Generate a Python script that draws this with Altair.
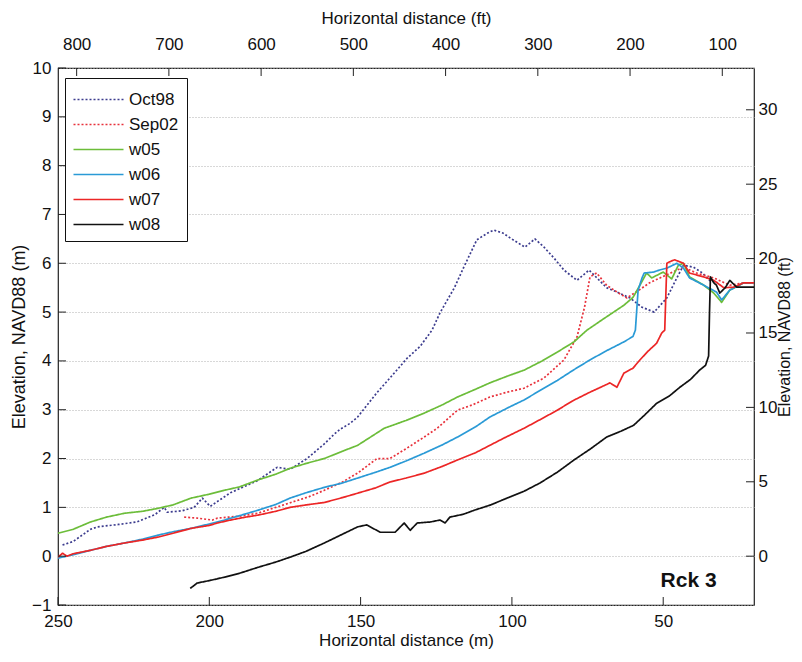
import altair as alt
import pandas as pd

# ---------------- data ----------------
series_names = ["Oct98", "Sep02", "w05", "w06", "w07", "w08"]
series_colors = ["#3c3c8e", "#e8323c", "#6cbd3a", "#2a9ad6", "#ec2626", "#111111"]
series_dash = [[2, 2], [2, 2], [1, 0], [1, 0], [1, 0], [1, 0]]
series_width = [1.7, 1.7, 2.1, 2.1, 2.1, 2.7]

oct98_x = [248.5, 245, 239.3, 237, 230, 224, 218, 214.9, 213.9, 209, 205, 202.3, 199.7, 193, 184, 177.6,
           173.3, 167.7, 162, 158.7, 156.8, 153.5, 151, 144.6, 140.3, 134.7, 130.3, 126.4, 123.8, 119,
           115.9, 111.6, 108, 106, 103, 100.6, 95.7, 92.4, 89.4, 86, 82.8, 78.5, 74.5, 68.7, 65.3, 61,
           57, 53, 48.8, 45.5, 43.3, 40, 37, 34.7, 32]
oct98_y = [0.23, 0.3, 0.55, 0.6, 0.65, 0.7, 0.85, 1.0, 0.9, 0.93, 1.0, 1.19, 1.02, 1.3, 1.55, 1.82,
           1.78, 2.0, 2.3, 2.5, 2.6, 2.72, 2.85, 3.35, 3.65, 4.05, 4.3, 4.63, 4.98, 5.5,
           5.92, 6.48, 6.62, 6.68, 6.62, 6.52, 6.33, 6.5, 6.33, 6.1, 5.86, 5.65, 5.86, 5.5, 5.41, 5.29,
           5.1, 5.0, 5.29, 5.7, 5.96, 5.92, 5.8, 5.65, 5.6]

sep02_x = [208.3, 204, 199, 197.3, 190, 184, 178, 173, 167, 162, 156, 151, 144.6, 140.3, 135, 129, 124.7,
           118, 113, 107.3, 101.6, 96, 89.4, 82.8, 78.5, 76, 74.2, 72, 68.7, 65, 62, 58, 54.5, 49, 43.3,
           39, 33.3, 28, 23.4, 20]
sep02_y = [0.8, 0.78, 0.74, 0.78, 0.82, 0.88, 1.0, 1.1, 1.22, 1.35, 1.52, 1.7, 2.0, 2.0, 2.2, 2.44, 2.62,
           2.99, 3.1, 3.26, 3.36, 3.44, 3.65, 4.02, 4.49, 5.1, 5.72, 5.8, 5.55, 5.4, 5.29, 5.45, 5.6, 5.76,
           5.92, 5.8, 5.7, 5.55, 5.6, 5.6]

w05_x = [250, 245, 239.3, 234, 228, 222, 217, 212, 206, 200, 195, 190, 184, 178, 173.3, 168, 162, 156, 151,
         142.2, 135, 129, 123, 118, 112, 107.3, 101, 96, 90, 85, 79.5, 75.2, 70, 63, 60, 57.7, 55.5, 53.8,
         50, 47.2, 45, 43.3, 41.3, 36.6, 33.3, 30.7, 28, 23.4, 20]
w05_y = [0.47, 0.55, 0.7, 0.8, 0.88, 0.92, 0.98, 1.05, 1.19, 1.27, 1.35, 1.42, 1.56, 1.68, 1.8, 1.9, 2.0,
         2.15, 2.27, 2.62, 2.78, 2.93, 3.1, 3.26, 3.42, 3.55, 3.7, 3.81, 4.0, 4.18, 4.39, 4.63, 4.85, 5.14,
         5.3, 5.55, 5.8, 5.7, 5.82, 5.68, 5.96, 6.0, 5.72, 5.55, 5.39, 5.2, 5.45, 5.6, 5.6]

w06_x = [250, 245, 239.3, 234, 228, 222, 217, 212, 206, 200, 195, 190, 184, 178, 173.3, 168, 162, 156, 151,
         145, 140.3, 135, 129, 123, 118, 112, 107.3, 101, 96, 90, 85, 79.5, 74.2, 69, 63, 60, 59.2, 58.3,
         57, 56.3, 53.2, 51.3, 48.8, 45.5, 43.3, 41.3, 36.6, 32.4, 30.7, 28, 23.4, 20]
w06_y = [-0.04, 0.03, 0.12, 0.2, 0.27, 0.35, 0.43, 0.5, 0.57, 0.66, 0.74, 0.83, 0.94, 1.06, 1.19, 1.3, 1.41,
         1.5, 1.6, 1.72, 1.82, 1.95, 2.11, 2.28, 2.44, 2.65, 2.85, 3.05, 3.2, 3.42, 3.6, 3.82, 4.02, 4.2,
         4.39, 4.5, 4.63, 5.45, 5.7, 5.8, 5.82, 5.86, 5.9, 6.0, 5.9, 5.7, 5.55, 5.41, 5.25, 5.45, 5.6, 5.6]

w07_x = [250, 248.5, 247, 245, 239.3, 234, 228, 222, 217, 212, 206, 200, 197.3, 193, 188, 184, 178, 173.3,
         168, 162, 156, 151, 145, 140.3, 135, 129, 123, 118, 112, 107.3, 102.6, 96, 90, 85, 80, 74.2, 70,
         67.6, 65.3, 63, 60, 57.7, 55, 52.2, 50.5, 49.5, 48.8, 47.2, 46.2, 43.3, 41.3, 36.6, 33.3, 30,
         26.7, 23.4, 20]
w07_y = [-0.02, 0.06, 0.0, 0.05, 0.12, 0.2, 0.27, 0.33, 0.39, 0.47, 0.57, 0.63, 0.68, 0.74, 0.8, 0.84, 0.92,
         1.0, 1.05, 1.1, 1.2, 1.29, 1.4, 1.52, 1.6, 1.7, 1.84, 1.97, 2.12, 2.27, 2.42, 2.62, 2.82, 2.99,
         3.18, 3.36, 3.48, 3.55, 3.46, 3.75, 3.85, 4.02, 4.2, 4.36, 4.57, 4.63, 6.0, 6.05, 6.07, 6.0, 5.8,
         5.72, 5.65, 5.5, 5.51, 5.6, 5.6]

w08_x = [206.3, 204, 200, 195, 190, 184, 178, 173.3, 168, 162, 156, 151, 148, 143.5, 138.6, 135.6, 133.6,
         131.3, 127, 123.8, 122.1, 120.5, 116, 112.5, 107, 101.6, 96, 90.7, 85, 79.5, 74, 68.7, 64, 59.8,
         56, 52.2, 48, 44.5, 41, 38, 36, 35, 34.7, 34.4, 33.3, 32.4, 31.3, 29.5, 28, 25.7, 22, 20]
w08_y = [-0.66, -0.55, -0.5, -0.43, -0.35, -0.23, -0.12, -0.02, 0.1, 0.27, 0.45, 0.6, 0.64, 0.49, 0.49,
         0.68, 0.53, 0.68, 0.7, 0.74, 0.68, 0.8, 0.86, 0.94, 1.05, 1.19, 1.33, 1.5, 1.72, 1.97, 2.2, 2.44,
         2.56, 2.68, 2.9, 3.13, 3.28, 3.46, 3.62, 3.81, 3.91, 4.1, 5.0, 5.72, 5.6, 5.55, 5.39, 5.5, 5.65,
         5.51, 5.51, 5.51]

x_ticks_m = [250, 200, 150, 100, 50]
y_ticks_m = [-1, 0, 1, 2, 3, 4, 5, 6, 7, 8, 9, 10]
x_ticks_ft = [800, 700, 600, 500, 400, 300, 200, 100]
y_ticks_ft = [0, 5, 10, 15, 20, 25, 30]
x_domain_m = [20, 250]
y_domain_m = [-1, 10]
FT = 0.3048

label_text = ["Rck 3"]
label_x = [41.6]
label_y = [-0.5]

# ---------------- tables ----------------
rows = []
all_x = [oct98_x, sep02_x, w05_x, w06_x, w07_x, w08_x]
all_y = [oct98_y, sep02_y, w05_y, w06_y, w07_y, w08_y]
for name, xs, ys in zip(series_names, all_x, all_y):
    for i, (xv, yv) in enumerate(zip(xs, ys)):
        rows.append({"series": name, "x": xv, "y": yv, "i": i})
df = pd.DataFrame(rows)

W, H = 696, 537
FONT = "Liberation Sans, Arial"

xs_m = alt.Scale(domain=x_domain_m, reverse=True, nice=False, zero=False)
ys_m = alt.Scale(domain=y_domain_m, nice=False, zero=False)
xs_ft = alt.Scale(domain=[x_domain_m[0] / FT, x_domain_m[1] / FT], reverse=True, nice=False, zero=False)
ys_ft = alt.Scale(domain=[y_domain_m[0] / FT, y_domain_m[1] / FT], nice=False, zero=False)

ax_xm = alt.Axis(values=x_ticks_m, title="Horizontal distance (m)", orient="bottom",
                 ticks=False, grid=False, domain=False, labelPadding=8, titlePadding=3,
                 labelFlush=False)
ax_ym = alt.Axis(values=y_ticks_m, title="Elevation, NAVD88 (m)", orient="left",
                 ticks=False, grid=True, gridDash=[1, 2], gridColor="#b0b0b0",
                 domain=False, labelPadding=7, titlePadding=3,
                 titleFontSize=18, labelFlush=False)
ax_xft = alt.Axis(values=x_ticks_ft, title="Horizontal distance (ft)", orient="top",
                  ticks=False, grid=False, domain=False, labelPadding=15, titlePadding=8,
                  labelFlush=False)
ax_yft = alt.Axis(values=y_ticks_ft, title="Elevation, NAVD88 (ft)", orient="right",
                  ticks=False, grid=False, domain=False, labelPadding=4, titlePadding=0,
                  titleAngle=270, titleBaseline="top", titleFontSize=16, labelFlush=False)

legend = alt.Legend(
    title=None, orient="none", legendX=7, legendY=10,
    fillColor="white", strokeColor="#111", padding=8,
    symbolType="M-2,0H2", symbolSize=625, symbolOffset=12, symbolStrokeWidth=2.4,
    labelOffset=17, labelFont=FONT, labelFontSize=17, labelColor="#111",
    rowPadding=3,
)

lines = alt.Chart(df).mark_line(strokeJoin="round", clip=True).encode(
    x=alt.X("x:Q", scale=xs_m, axis=ax_xm),
    y=alt.Y("y:Q", scale=ys_m, axis=ax_ym),
    color=alt.Color("series:N", scale=alt.Scale(domain=series_names, range=series_colors), legend=legend),
    strokeDash=alt.StrokeDash("series:N", scale=alt.Scale(domain=series_names, range=series_dash),
                              legend=legend),
    strokeWidth=alt.StrokeWidth("series:N", scale=alt.Scale(domain=series_names, range=series_width),
                                legend=None),
    order="i:Q",
)

tick_b = alt.Chart(pd.DataFrame({"x": x_ticks_m})).mark_rule(color="#222").encode(
    x=alt.X("x:Q", scale=xs_m, axis=ax_xm), y=alt.value(H), y2=alt.value(H - 8))
tick_l = alt.Chart(pd.DataFrame({"y": y_ticks_m})).mark_rule(color="#222").encode(
    y=alt.Y("y:Q", scale=ys_m, axis=ax_ym), x=alt.value(0), x2=alt.value(8))
rck = alt.Chart(pd.DataFrame({"t": label_text, "x": label_x, "y": label_y})).mark_text(
    font=FONT, fontSize=21, fontWeight="bold", color="#111", align="center", baseline="middle"
).encode(x=alt.X("x:Q", scale=xs_m, axis=ax_xm), y=alt.Y("y:Q", scale=ys_m, axis=ax_ym), text="t:N")

main = alt.layer(lines, tick_b, tick_l, rck)

ft_df = pd.DataFrame({"xf": [x_domain_m[0] / FT, x_domain_m[1] / FT],
                      "yf": [y_domain_m[0] / FT, y_domain_m[1] / FT]})
ft_pts = alt.Chart(ft_df).mark_point(opacity=0).encode(
    x=alt.X("xf:Q", scale=xs_ft, axis=ax_xft),
    y=alt.Y("yf:Q", scale=ys_ft, axis=ax_yft),
)
tick_t = alt.Chart(pd.DataFrame({"xf": x_ticks_ft})).mark_rule(color="#222").encode(
    x=alt.X("xf:Q", scale=xs_ft, axis=ax_xft), y=alt.value(0), y2=alt.value(8))
tick_r = alt.Chart(pd.DataFrame({"yf": y_ticks_ft})).mark_rule(color="#222").encode(
    y=alt.Y("yf:Q", scale=ys_ft, axis=ax_yft), x=alt.value(W - 8), x2=alt.value(W))

ftl = alt.layer(ft_pts, tick_t, tick_r)

chart = alt.layer(main, ftl).resolve_scale(
    x="independent", y="independent"
).properties(
    width=W, height=H, autosize="none",
    padding={"left": 50, "top": 60, "right": 40, "bottom": 50},
    background="white",
).configure_view(
    stroke="#222", strokeWidth=1.2
).configure_axis(
    labelFont=FONT, labelFontSize=17, labelColor="#111",
    titleFont=FONT, titleFontSize=17, titleFontWeight="normal", titleColor="#111",
)

chart.save("out.html", embed_options={"renderer": "svg", "actions": False})
